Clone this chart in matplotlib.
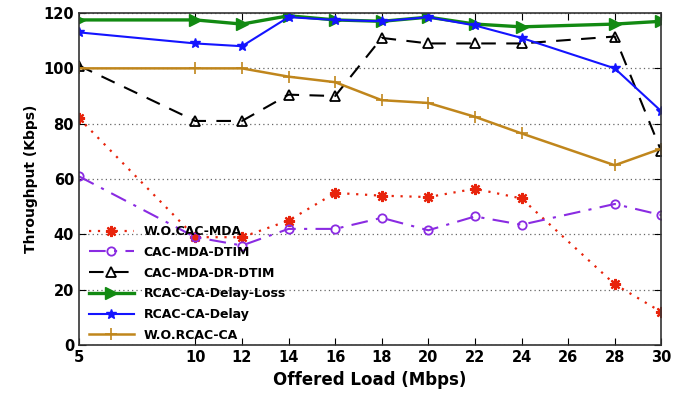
import matplotlib.pyplot as plt

# data
load = [5, 10, 12, 14, 16, 18, 20, 22, 24, 28, 30]
wo_cac_mda = [82, 39, 39, 45, 55, 54, 53.5, 56.5, 53, 22, 12]
cac_mda_dtim = [61, 39, 36, 42, 42, 46, 41.5, 46.5, 43.5, 51, 47]
cac_mda_dr_dtim = [101, 81, 81, 90.5, 90, 111, 109, 109, 109, 111.5, 70]
rcac_delay_loss = [117.5, 117.5, 116, 119, 117.5, 117, 118.5, 116, 115, 116, 117]
rcac_delay = [113, 109, 108, 118.5, 117.5, 117, 118.5, 115.5, 111, 100, 84.5]
wo_rcac_ca = [100, 100, 100, 97, 95, 88.5, 87.5, 82.5, 76.5, 65, 71]

xticks = [5, 10, 12, 14, 16, 18, 20, 22, 24, 26, 28, 30]
yticks = [0, 20, 40, 60, 80, 100, 120]

fig = plt.figure(figsize=(6.86, 3.94), dpi=100)
ax = fig.add_axes([0.115, 0.124, 0.849, 0.843])

ax.plot(load, wo_cac_mda, color='#e8240c', linestyle=(0, (1, 3)), linewidth=1.6,
        marker=(8, 2, 0), markersize=8, markeredgewidth=1.6, label='W.O.CAC-MDA')
ax.plot(load, cac_mda_dtim, color='#8a2be2', linestyle=(0, (8, 4, 1.5, 4)), linewidth=1.5,
        marker='o', markerfacecolor='none', markersize=6, markeredgewidth=1.3,
        label='CAC-MDA-DTIM')
ax.plot(load, cac_mda_dr_dtim, color='black', linestyle=(0, (7, 5)), linewidth=1.5,
        marker='^', markerfacecolor='none', markersize=7, markeredgewidth=1.3,
        label='CAC-MDA-DR-DTIM')
ax.plot(load, rcac_delay_loss, color='#128a12', linestyle='-', linewidth=2.4,
        marker='>', markersize=8, label='RCAC-CA-Delay-Loss')
ax.plot(load, rcac_delay, color='#1414ff', linestyle='-', linewidth=1.5,
        marker='*', markersize=7, label='RCAC-CA-Delay')
ax.plot(load, wo_rcac_ca, color='#c0861c', linestyle='-', linewidth=1.8,
        marker='+', markersize=9, markeredgewidth=1.2, label='W.O.RCAC-CA')

ax.set_xlim(5, 30)
ax.set_ylim(0, 120)
ax.set_xticks(xticks)
ax.set_yticks(yticks)
ax.tick_params(direction='in', top=True, right=True, length=5, labelsize=10.5)
for lab in ax.get_xticklabels() + ax.get_yticklabels():
    lab.set_fontweight('bold')
ax.yaxis.grid(True, linestyle=(0, (1, 2.5)), color='#666666', linewidth=0.9)
for s in ax.spines.values():
    s.set_linewidth(1.2)
    s.set_color('#333333')

ax.set_xlabel('Offered Load (Mbps)', fontsize=12, fontweight='bold')
ax.set_ylabel('Throughput (Kbps)', fontsize=10, fontweight='bold')

leg = ax.legend(loc='lower left', frameon=False, fontsize=9, handlelength=3.6,
                labelspacing=0.62, borderaxespad=0.0, bbox_to_anchor=(0.008, -0.005))
for t in leg.get_texts():
    t.set_fontweight('bold')

fig.savefig('out.png', dpi=100)
